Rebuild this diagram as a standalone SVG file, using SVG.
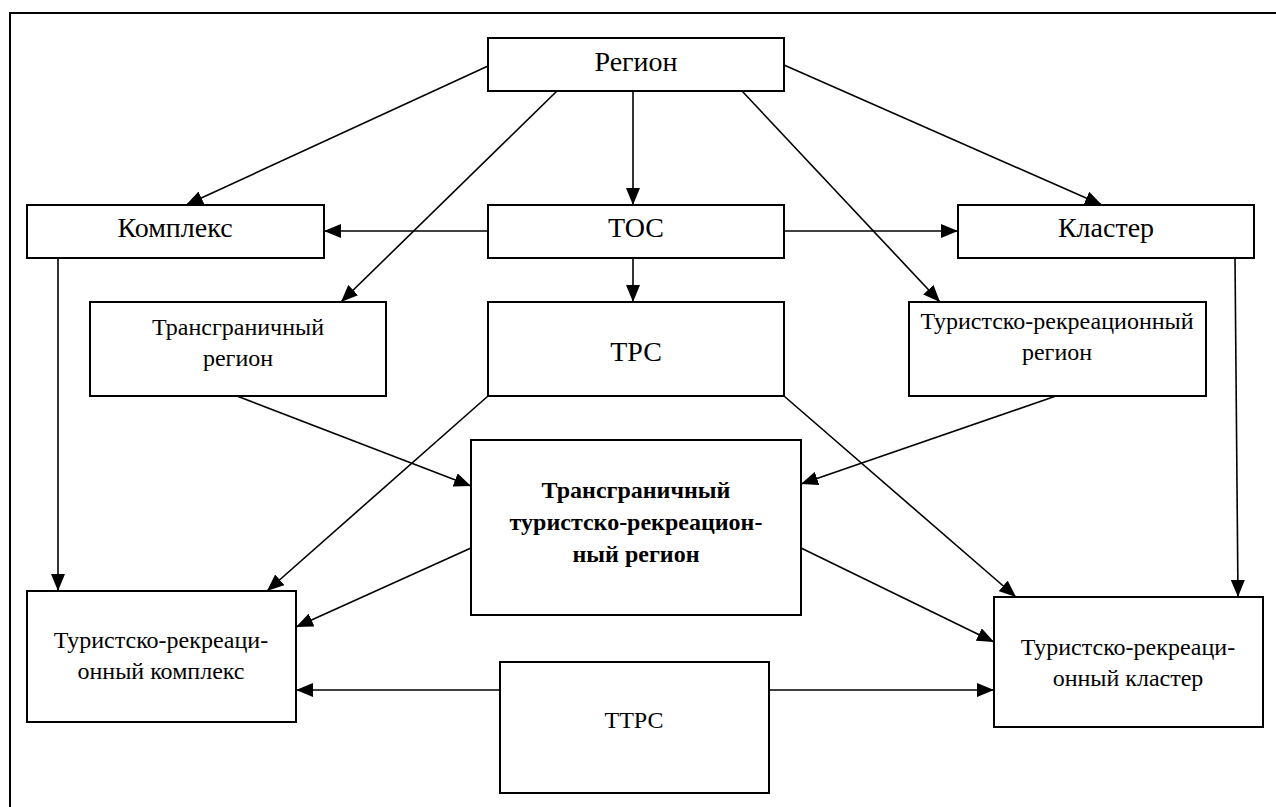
<svg xmlns="http://www.w3.org/2000/svg" width="1276" height="807" viewBox="0 0 1276 807">
<style>
.box{fill:#fff;stroke:#000;stroke-width:2}
text{font-family:'Liberation Serif','Times New Roman',serif;fill:#000;text-anchor:middle}
.big{font-size:28px}
.sm{font-size:24px}
.bold{font-size:24px;font-weight:bold}
.conn line{stroke:#000;stroke-width:1.6;marker-end:url(#arr)}
</style>
<defs>
<marker id="arr" markerUnits="userSpaceOnUse" markerWidth="17" markerHeight="14" refX="17" refY="7" orient="auto">
<path d="M0,0 L17,7 L0,14 z" fill="#000"/>
</marker>
</defs>
<rect width="1276" height="807" fill="#fff"/>
<g id="frame"><path d="M10,807 V13 H1276" fill="none" stroke="#000" stroke-width="2"/></g>
<g class="conn" id="connectors">
<line x1="488" y1="66" x2="186" y2="205"/>
<line x1="557" y1="91" x2="341" y2="302"/>
<line x1="633" y1="91" x2="633" y2="205"/>
<line x1="488" y1="231" x2="324" y2="231"/>
<line x1="633" y1="258" x2="633" y2="302"/>
<line x1="58" y1="258" x2="58" y2="591"/>
<line x1="784" y1="65" x2="1102" y2="205"/>
<line x1="742" y1="91" x2="940" y2="302"/>
<line x1="784" y1="231" x2="958" y2="231"/>
<line x1="1235" y1="258" x2="1238" y2="597"/>
<line x1="237" y1="396" x2="471" y2="486"/>
<line x1="488" y1="396" x2="267" y2="591"/>
<line x1="471" y1="548" x2="296" y2="627"/>
<line x1="500" y1="690" x2="296" y2="690"/>
<line x1="784" y1="396" x2="1016" y2="597"/>
<line x1="1056" y1="396" x2="801" y2="484"/>
<line x1="801" y1="548" x2="994" y2="642"/>
<line x1="769" y1="690" x2="994" y2="690"/>
</g>
<g id="region"><rect class="box" x="488" y="38" width="296" height="53"/><text class="big" x="636" y="71">Регион</text></g>
<g id="kompleks"><rect class="box" x="27" y="205" width="297" height="53"/><text class="big" x="175" y="237">Комплекс</text></g>
<g id="tos"><rect class="box" x="488" y="205" width="296" height="53"/><text class="big" x="636" y="237">ТОС</text></g>
<g id="klaster"><rect class="box" x="958" y="205" width="296" height="53"/><text class="big" x="1106" y="237">Кластер</text></g>
<g id="transgr-region"><rect class="box" x="90" y="302" width="296" height="94"/><text class="sm" x="238" y="335">Трансграничный</text><text class="sm" x="238" y="366">регион</text></g>
<g id="trs"><rect class="box" x="488" y="302" width="296" height="94"/><text class="big" x="636" y="361">ТРС</text></g>
<g id="tr-region"><rect class="box" x="909" y="302" width="297" height="94"/><text class="sm" x="1057" y="329">Туристско-рекреационный</text><text class="sm" x="1057" y="360">регион</text></g>
<g id="ttrr"><rect class="box" x="471" y="440" width="330" height="175"/><text class="bold" x="636" y="498">Трансграничный</text><text class="bold" x="636" y="530">туристско-рекреацион-</text><text class="bold" x="636" y="562">ный регион</text></g>
<g id="trk"><rect class="box" x="27" y="591" width="269" height="131"/><text class="sm" x="161" y="648">Туристско-рекреаци-</text><text class="sm" x="161" y="679">онный комплекс</text></g>
<g id="ttrs"><rect class="box" x="500" y="662" width="269" height="131"/><text class="sm" x="634" y="728">ТТРС</text></g>
<g id="trklaster"><rect class="box" x="994" y="597" width="269" height="130"/><text class="sm" x="1128" y="655">Туристско-рекреаци-</text><text class="sm" x="1128" y="686">онный кластер</text></g>
</svg>
